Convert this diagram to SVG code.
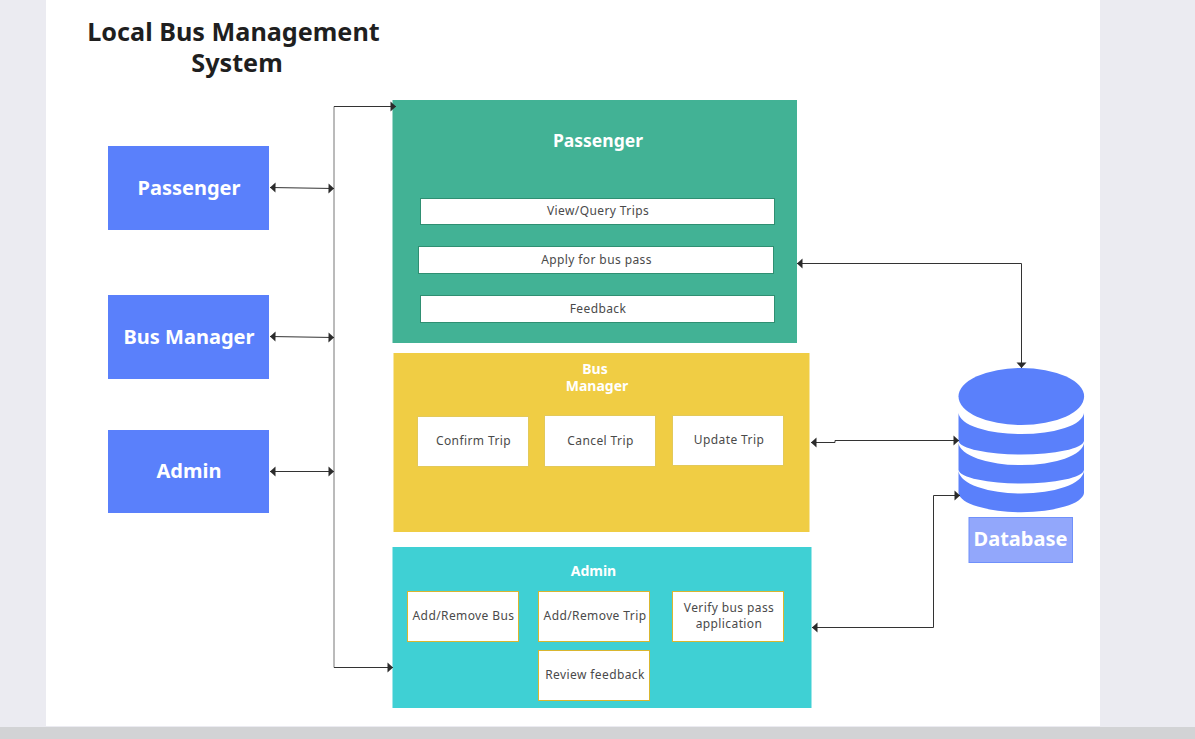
<svg xmlns="http://www.w3.org/2000/svg" width="1195" height="739" viewBox="0 0 1195 739">
<style>
text{font-family:"Noto Sans","Open Sans","Liberation Sans",sans-serif;text-anchor:middle}
.h{fill:#fff;font-weight:700;font-size:20px}
.s{fill:#fff;font-weight:700;font-size:14px}
.p{fill:#fff;font-weight:700;font-size:17.500px}
.ti{fill:#1f1f1f;font-weight:700;font-size:25.200px}
.t{fill:#4a4a4a;font-size:12px;letter-spacing:.4px}
.b{fill:#fff;stroke:#d9b62f;stroke-width:1}
.g{fill:#fff;stroke:#2f8f72;stroke-width:1}
.y{fill:#fff;stroke:#e3c95a;stroke-width:1}
.c{fill:none;stroke:#333;stroke-width:1;marker-end:url(#a)}
.d{fill:none;stroke:#333;stroke-width:1;marker-start:url(#r);marker-end:url(#a)}
</style>
<defs>
<marker id="a" markerUnits="userSpaceOnUse" markerWidth="8" markerHeight="12" refX="6" refY="6" orient="auto"><path d="M0.500 1L6 6L0.500 11Z" fill="#2b2b2b"/></marker>
<marker id="r" markerUnits="userSpaceOnUse" markerWidth="8" markerHeight="12" refX="0" refY="6" orient="auto"><path d="M5.500 1L0 6L5.500 11Z" fill="#2b2b2b"/></marker>
</defs>
<rect width="1195" height="739" fill="#ebebf1"/>
<rect x="46" width="1054" height="726" fill="#fff"/>
<rect y="727" width="1195" height="12" fill="#d2d3d5"/>
<g id="title"><text class="ti" x="233.500" y="41">Local Bus Management</text><text class="ti" x="237" y="72">System</text></g>
<g id="actor-passenger"><rect x="108" y="146" width="161" height="84" fill="#5a80fb"/><text class="h" x="189" y="195">Passenger</text></g>
<g id="actor-bus-manager"><rect x="108" y="295" width="161" height="84" fill="#5a80fb"/><text class="h" x="189" y="344">Bus Manager</text></g>
<g id="actor-admin"><rect x="108" y="430" width="161" height="83" fill="#5a80fb"/><text class="h" x="189" y="477.500">Admin</text></g>
<g id="panel-passenger"><rect x="392.500" y="100" width="404.500" height="243" fill="#42b295"/><text class="p" x="598" y="147">Passenger</text>
<rect class="g" x="420.500" y="198.500" width="354" height="26"/><text class="t" x="598" y="215">View/Query Trips</text>
<rect class="g" x="418.500" y="246.500" width="355" height="27"/><text class="t" x="596.500" y="264">Apply for bus pass</text>
<rect class="g" x="420.500" y="295.500" width="354" height="27"/><text class="t" x="598" y="313">Feedback</text></g>
<g id="panel-bus-manager"><rect x="393.500" y="353" width="416" height="179" fill="#f0cd44"/><text class="s" x="595" y="374">Bus</text><text class="s" x="597" y="391">Manager</text>
<rect class="y" x="417.500" y="416.500" width="111" height="50"/><text class="t" x="473.500" y="445">Confirm Trip</text>
<rect class="y" x="544.500" y="415.500" width="111" height="51"/><text class="t" x="600.500" y="445">Cancel Trip</text>
<rect class="y" x="672.500" y="415.500" width="111" height="50"/><text class="t" x="729" y="444">Update Trip</text></g>
<g id="panel-admin"><rect x="392.500" y="547" width="419" height="161" fill="#3fd0d4"/><text class="s" x="593.500" y="575.500" style="font-size:14px">Admin</text>
<rect class="b" x="407.500" y="591.500" width="111" height="50"/><text class="t" x="463.500" y="620">Add/Remove Bus</text>
<rect class="b" x="538.500" y="591.500" width="111" height="50"/><text class="t" x="595" y="620">Add/Remove Trip</text>
<rect class="b" x="672.500" y="591.500" width="111" height="50"/><text class="t" x="729" y="612">Verify bus pass</text><text class="t" x="729" y="628">application</text>
<rect class="b" x="538.500" y="650.500" width="111" height="50"/><text class="t" x="595" y="679">Review feedback</text></g>
<g id="database" fill="#5a80fb">
<ellipse cx="1021.300" cy="396.500" rx="62.800" ry="28.500"/>
<path d="M958.500 413A62.800 22 0 0 0 1084 413V441A62.800 14 0 0 1 958.500 441Z"/>
<path d="M958.500 443A62.800 23 0 0 0 1084 443V470A62.800 14 0 0 1 958.500 470Z"/>
<path d="M958.500 471A62.800 23.500 0 0 0 1084 471V493A62.800 20 0 0 1 958.500 493Z"/>
<rect x="969" y="517.500" width="103.500" height="45" fill="#92a7fb" stroke="#6f90fb"/><text class="h" x="1020.500" y="545.500">Database</text></g>
<g id="connectors">
<path fill="none" stroke="#777" d="M334 106.500V667.500"/>
<path class="d" d="M270 187.500L334 188.500"/>
<path class="d" d="M270 336.500L334 337.500"/>
<path class="d" d="M270 471.500H334"/>
<path class="c" d="M334 106.500H396"/>
<path class="c" d="M334 667.500H393"/>
<path class="d" d="M797 263.500H1021.500V368"/>
<path class="d" d="M811 442.500H835V440.500H959"/>
<path class="d" d="M812 627.500H933.500V495.500H960"/>
</g>
</svg>
